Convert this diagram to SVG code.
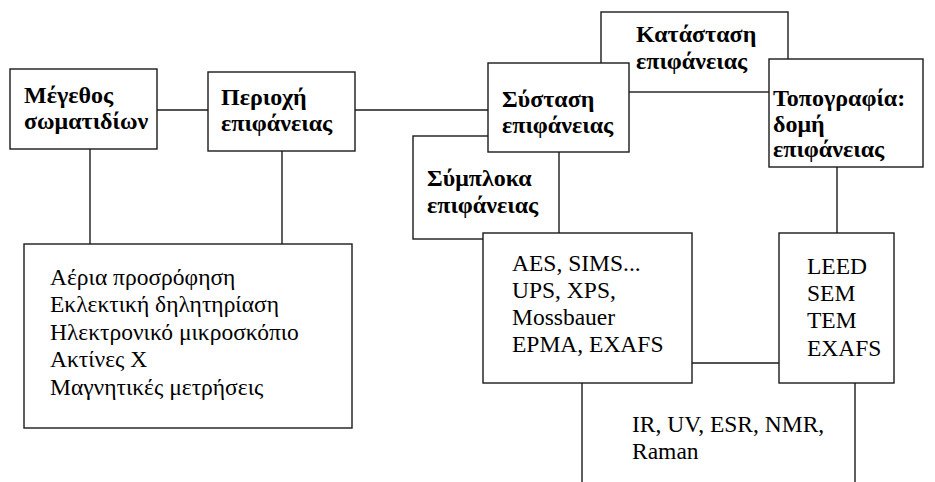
<svg xmlns="http://www.w3.org/2000/svg" width="935" height="482" viewBox="0 0 935 482">
  <rect width="935" height="482" fill="#fff"/>

  <g id="connectors" fill="none" stroke="#1a1a1a" stroke-width="1.4">
    <line x1="157" y1="110" x2="208" y2="110"/>
    <line x1="355" y1="110" x2="488" y2="110"/>
    <line x1="90" y1="149" x2="90" y2="244"/>
    <line x1="282" y1="151" x2="282" y2="244"/>
    <line x1="837" y1="167" x2="837" y2="233"/>
    <line x1="692" y1="363" x2="779" y2="363"/>
    <line x1="582" y1="383" x2="582" y2="482"/>
    <line x1="855" y1="383" x2="855" y2="482"/>
  </g>

  <g id="katastasi">
    <rect x="601" y="12" width="187" height="80" fill="#fff" stroke="#1a1a1a" stroke-width="1.4"/>
    <text x="636" y="42" font-family="Liberation Serif, serif" font-weight="bold" font-size="24">Κατάσταση</text>
    <text x="636" y="69" font-family="Liberation Serif, serif" font-weight="bold" font-size="24">επιφάνειας</text>
  </g>

  <g id="symploka">
    <rect x="413" y="136" width="146" height="103" fill="#fff" stroke="#1a1a1a" stroke-width="1.4"/>
    <text x="427" y="186" font-family="Liberation Serif, serif" font-weight="bold" font-size="24">Σύμπλοκα</text>
    <text x="427" y="213" font-family="Liberation Serif, serif" font-weight="bold" font-size="24">επιφάνειας</text>
  </g>

  <g id="megethos">
    <rect x="10" y="69" width="147" height="80" fill="#fff" stroke="#1a1a1a" stroke-width="1.4"/>
    <text x="24" y="103" font-family="Liberation Serif, serif" font-weight="bold" font-size="24">Μέγεθος</text>
    <text x="24" y="129" font-family="Liberation Serif, serif" font-weight="bold" font-size="24">σωματιδίων</text>
  </g>

  <g id="periochi">
    <rect x="208" y="72" width="147" height="79" fill="#fff" stroke="#1a1a1a" stroke-width="1.4"/>
    <text x="221" y="105" font-family="Liberation Serif, serif" font-weight="bold" font-size="24">Περιοχή</text>
    <text x="221" y="131" font-family="Liberation Serif, serif" font-weight="bold" font-size="24">επιφάνειας</text>
  </g>

  <g id="systasi">
    <rect x="488" y="63" width="141" height="89" fill="#fff" stroke="#1a1a1a" stroke-width="1.4"/>
    <text x="502" y="107" font-family="Liberation Serif, serif" font-weight="bold" font-size="24">Σύσταση</text>
    <text x="502" y="133" font-family="Liberation Serif, serif" font-weight="bold" font-size="24">επιφάνειας</text>
  </g>

  <g id="topografia">
    <rect x="769" y="59" width="154" height="108" fill="#fff" stroke="#1a1a1a" stroke-width="1.4"/>
    <text x="773" y="106" font-family="Liberation Serif, serif" font-weight="bold" font-size="24">Τοπογραφία:</text>
    <text x="773" y="132" font-family="Liberation Serif, serif" font-weight="bold" font-size="24">δομή</text>
    <text x="773" y="157" font-family="Liberation Serif, serif" font-weight="bold" font-size="24">επιφάνειας</text>
  </g>

  <g id="methods-general">
    <rect x="24" y="244" width="328" height="184" fill="#fff" stroke="#1a1a1a" stroke-width="1.4"/>
    <text x="50" y="285" font-family="Liberation Serif, serif" font-size="23.5">Αέρια προσρόφηση</text>
    <text x="50" y="312" font-family="Liberation Serif, serif" font-size="23.5">Εκλεκτική δηλητηρίαση</text>
    <text x="50" y="340" font-family="Liberation Serif, serif" font-size="23.5">Ηλεκτρονικό μικροσκόπιο</text>
    <text x="50" y="367" font-family="Liberation Serif, serif" font-size="23.5">Ακτίνες Χ</text>
    <text x="50" y="395" font-family="Liberation Serif, serif" font-size="23.5">Μαγνητικές μετρήσεις</text>
  </g>

  <g id="methods-composition">
    <rect x="483" y="233" width="209" height="150" fill="#fff" stroke="#1a1a1a" stroke-width="1.4"/>
    <text x="512" y="271" font-family="Liberation Serif, serif" font-size="23.5">AES, SIMS...</text>
    <text x="512" y="298" font-family="Liberation Serif, serif" font-size="23.5">UPS, XPS,</text>
    <text x="512" y="325" font-family="Liberation Serif, serif" font-size="23.5">Mossbauer</text>
    <text x="512" y="352" font-family="Liberation Serif, serif" font-size="23.5">EPMA, EXAFS</text>
  </g>

  <g id="methods-structure">
    <rect x="779" y="233" width="115" height="150" fill="#fff" stroke="#1a1a1a" stroke-width="1.4"/>
    <text x="807" y="274" font-family="Liberation Serif, serif" font-size="23.5">LEED</text>
    <text x="807" y="301" font-family="Liberation Serif, serif" font-size="23.5">SEM</text>
    <text x="807" y="328" font-family="Liberation Serif, serif" font-size="23.5">TEM</text>
    <text x="807" y="356" font-family="Liberation Serif, serif" font-size="23.5">EXAFS</text>
  </g>

  <g id="methods-spectroscopy">
    <text x="632" y="432" font-family="Liberation Serif, serif" font-size="23.5">IR, UV, ESR, NMR,</text>
    <text x="632" y="459" font-family="Liberation Serif, serif" font-size="23.5">Raman</text>
  </g>
</svg>
